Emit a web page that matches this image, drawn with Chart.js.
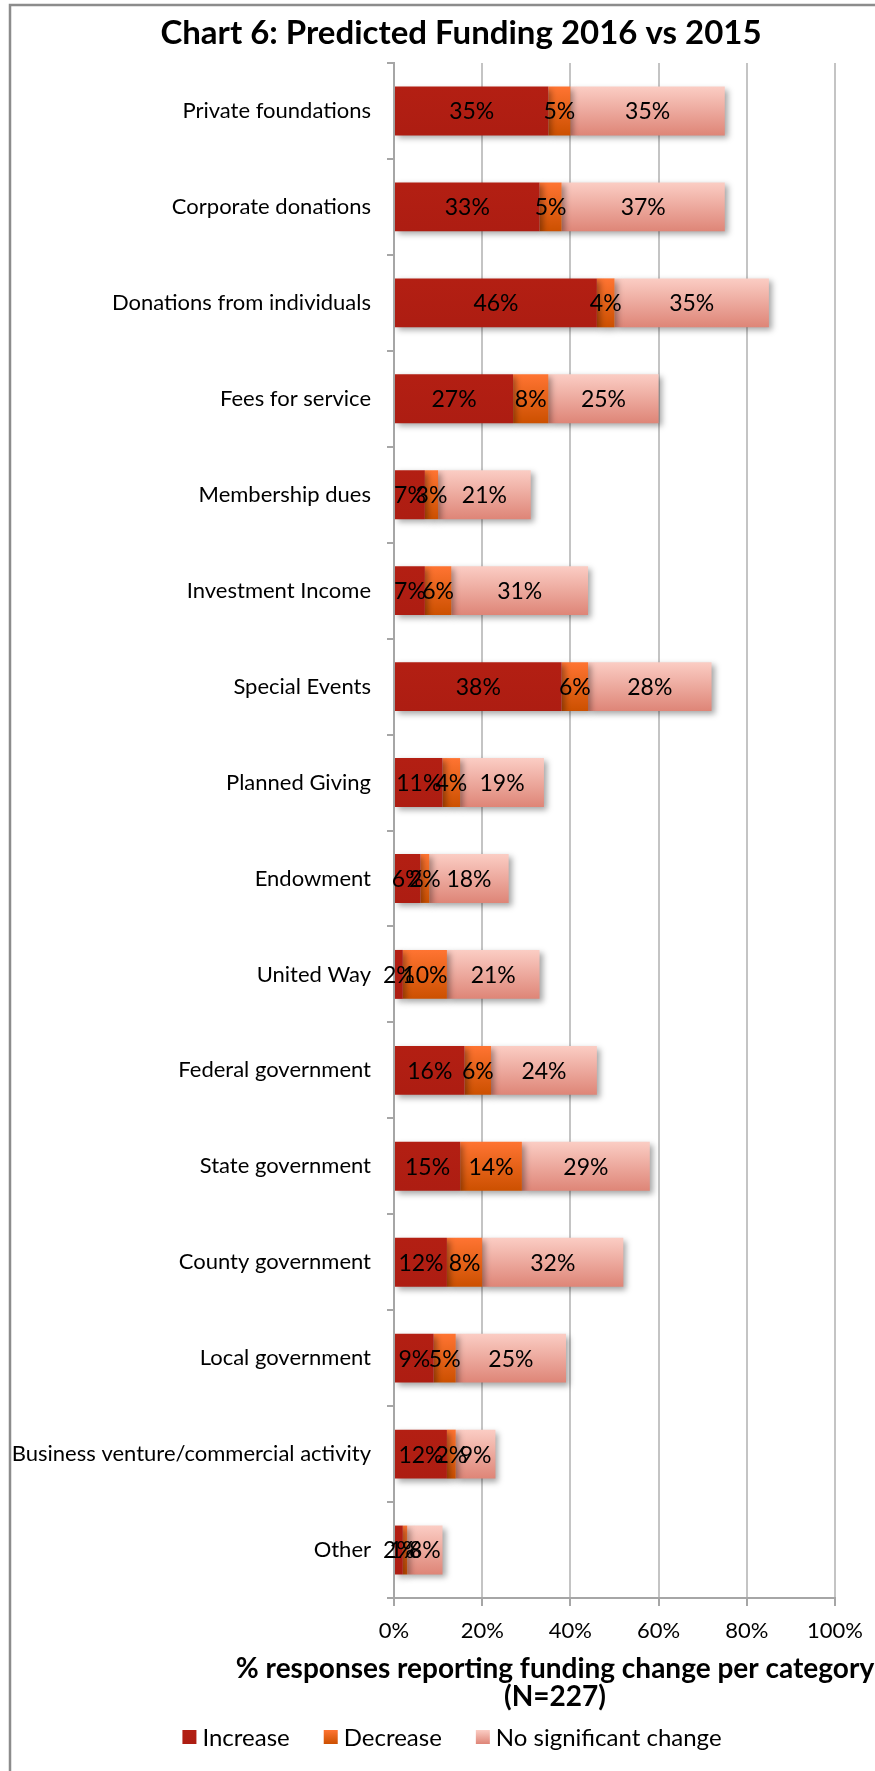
<!DOCTYPE html>
<html>
<head>
<meta charset="utf-8">
<title>Chart 6: Predicted Funding 2016 vs 2015</title>
<script src="https://cdn.jsdelivr.net/npm/chart.js@4.4.1/dist/chart.umd.min.js"></script>
<style>
  html, body { margin: 0; padding: 0; background: #fff; }
  canvas { display: block; }
</style>
</head>
<body>
<canvas id="chartFunding" width="875" height="1771"></canvas>
<script>
const categories = [
  "Private foundations",
  "Corporate donations",
  "Donations from individuals",
  "Fees for service",
  "Membership dues",
  "Investment Income",
  "Special Events",
  "Planned Giving",
  "Endowment",
  "United Way",
  "Federal government",
  "State government",
  "County government",
  "Local government",
  "Business venture/commercial activity",
  "Other",
];
const increase = [35, 33, 46, 27, 7, 7, 38, 11, 6, 2, 16, 15, 12, 9, 12, 2];
const decrease = [5, 5, 4, 8, 3, 6, 6, 4, 2, 10, 6, 14, 8, 5, 2, 1];
const noChange = [35, 37, 35, 25, 21, 31, 28, 19, 18, 21, 24, 29, 32, 25, 9, 8];
const xTicks = [0, 20, 40, 60, 80, 100];
const seriesNames = ["Increase", "Decrease", "No significant change"];

const chartTitle = "Chart 6: Predicted Funding 2016 vs 2015";
const axisTitle = ["% responses reporting funding change per category", "(N=227)"];

const FONT = "Lato, 'DejaVu Sans', sans-serif";
const BAR_PCT = 0.51;

// top / bottom colours of each series, bars are shaded vertically
const shades = [
  ["#b31f13", "#ad1d12"],
  ["#ff7432", "#cc5000"],
  ["#fbcdc4", "#de8577"],
];

function barFill(idx) {
  const [top, bottom] = shades[idx];
  return (ctx) => {
    const chart = ctx.chart;
    const y = chart.scales.y;
    if (!chart.chartArea || !y || ctx.type !== "data") return bottom;
    const mid = y.getPixelForValue(ctx.dataIndex);
    const half = (y.height / categories.length) * BAR_PCT / 2;
    const g = chart.ctx.createLinearGradient(0, mid - half, 0, mid + half);
    g.addColorStop(0, top);
    g.addColorStop(1, bottom);
    return g;
  };
}

const barShadow = {
  id: "barShadow",
  beforeDatasetsDraw(chart) {
    const c = chart.ctx;
    c.save();
    c.shadowColor = "rgba(0,0,0,0.35)";
    c.shadowBlur = 6;
    c.shadowOffsetX = 3;
    c.shadowOffsetY = 3;
  },
  afterDatasetsDraw(chart) {
    chart.ctx.restore();
  },
};

const segmentLabels = {
  id: "segmentLabels",
  afterDatasetsDraw(chart) {
    const c = chart.ctx;
    c.save();
    c.font = `23px ${FONT}`;
    c.fillStyle = "#000";
    c.textAlign = "center";
    c.textBaseline = "middle";
    chart.data.datasets.forEach((ds, i) => {
      chart.getDatasetMeta(i).data.forEach((bar, j) => {
        const { x, y, base } = bar.getProps(["x", "y", "base"], true);
        c.fillText(`${ds.data[j]}%`, (x + base) / 2, y + 1);
      });
    });
    c.restore();
  },
};

const decorations = {
  id: "decorations",
  beforeDraw(chart) {
    const c = chart.ctx;
    c.save();
    c.strokeStyle = "#8c8c8c";
    c.lineWidth = 2.5;
    c.beginPath();
    c.moveTo(10, chart.height);
    c.lineTo(10, 5);
    c.lineTo(chart.width, 5);
    c.stroke();
    c.restore();
  },
  afterDraw(chart) {
    const c = chart.ctx;
    c.save();
    c.fillStyle = "#000";
    c.textAlign = "center";
    c.textBaseline = "middle";

    c.font = `bold 33px ${FONT}`;
    c.fillText(chartTitle, 461, 33);

    c.font = `bold 28px ${FONT}`;
    axisTitle.forEach((line, i) => c.fillText(line, 555, 1669 + i * 28));

    // legend row
    c.font = `24px ${FONT}`;
    c.textAlign = "left";
    const box = 14, gapIn = 6, gapOut = 34;
    const widths = seriesNames.map((s) => c.measureText(s).width);
    const total = widths.reduce((a, w) => a + box + gapIn + w, 0) + gapOut * (seriesNames.length - 1);
    let x = 452 - total / 2;
    const ly = 1737;
    seriesNames.forEach((name, i) => {
      const g = c.createLinearGradient(0, ly - box / 2, 0, ly + box / 2);
      g.addColorStop(0, shades[i][0]);
      g.addColorStop(1, shades[i][1]);
      c.fillStyle = g;
      c.fillRect(x, ly - box / 2, box, box);
      c.fillStyle = "#000";
      c.fillText(name, x + box + gapIn, ly + 1);
      x += box + gapIn + widths[i] + gapOut;
    });
    c.restore();
  },
};

const data = {
  labels: categories,
  datasets: [increase, decrease, noChange].map((values, i) => ({
    label: seriesNames[i],
    data: values,
    backgroundColor: barFill(i),
    borderWidth: 0,
    barPercentage: BAR_PCT,
    categoryPercentage: 1,
  })),
};

new Chart(document.getElementById("chartFunding"), {
  type: "bar",
  data,
  options: {
    indexAxis: "y",
    responsive: false,
    animation: false,
    layout: { padding: { top: 63, right: 37, bottom: 0, left: 0 } },
    plugins: {
      legend: { display: false },
      title: { display: false },
      tooltip: { enabled: false },
    },
    scales: {
      x: {
        stacked: true,
        min: 0,
        max: 100,
        afterBuildTicks: (s) => { s.ticks = xTicks.map((v) => ({ value: v })); },
        afterFit: (s) => { s.height = 173; },
        ticks: {
          callback: (v) => `${v}%`,
          color: "#000",
          font: { family: FONT, size: 22 },
          padding: 12,
          maxRotation: 0,
        },
        grid: { color: "#c4c4c4", lineWidth: 2, tickLength: 8, tickColor: "#a6a6a6" },
        border: { color: "#a6a6a6", width: 2 },
      },
      y: {
        stacked: true,
        afterFit: (s) => { s.width = 394; },
        ticks: {
          color: "#000",
          font: { family: FONT, size: 22 },
          padding: 16,
          autoSkip: false,
        },
        grid: { drawOnChartArea: false, tickLength: 7, color: "#a6a6a6", lineWidth: 2 },
        border: { color: "#a6a6a6", width: 2 },
      },
    },
  },
  plugins: [decorations, barShadow, segmentLabels],
});
</script>
</body>
</html>
